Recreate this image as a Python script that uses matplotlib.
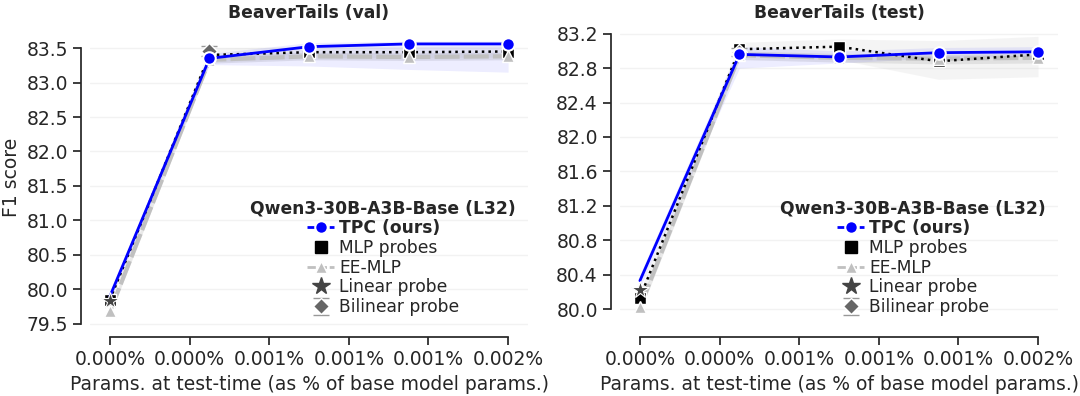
import numpy as np
import matplotlib
matplotlib.use("Agg")
import matplotlib.pyplot as plt
import seaborn as sns
from matplotlib.lines import Line2D
from matplotlib.ticker import MultipleLocator, FuncFormatter

sns.set_style("ticks")
plt.rcParams['font.family'] = 'sans-serif'
plt.rcParams['font.sans-serif'] = ['DejaVu Sans']
plt.rcParams['font.size'] = 12

# x: params at test time, % of base model params
params_pct = [0.0, 0.000425, 0.00085, 0.001275, 0.0017]

# BeaverTails (val)
tpc_val = [79.90, 83.35, 83.52, 83.56, 83.56]
tpc_val_lo = [79.84, 83.26, 83.24, 83.19, 83.15]
tpc_val_hi = [79.96, 83.42, 83.58, 83.60, 83.60]
ee_val = [79.68, 83.33, 83.38, 83.37, 83.38]
ee_val_lo = [79.62, 83.28, 83.33, 83.32, 83.33]
ee_val_hi = [79.74, 83.40, 83.44, 83.43, 83.44]
mlp_val = [79.85, 83.40, 83.44, 83.44, 83.45]
mlp_val_lo = [79.80, 83.30, 83.36, 83.36, 83.37]
mlp_val_hi = [79.90, 83.50, 83.52, 83.52, 83.53]
linear_val = 79.83
bilinear_val = 83.46
bilinear_val_err = 0.07

# BeaverTails (test)
tpc_test = [80.33, 82.96, 82.93, 82.98, 82.99]
tpc_test_lo = [80.25, 82.80, 82.86, 82.92, 82.94]
tpc_test_hi = [80.40, 83.05, 83.00, 83.04, 83.05]
ee_test = [80.02, 82.95, 82.92, 82.91, 82.92]
ee_test_lo = [79.96, 82.90, 82.87, 82.85, 82.86]
ee_test_hi = [80.08, 83.00, 82.97, 82.96, 82.97]
mlp_test = [80.13, 83.02, 83.05, 82.88, 82.96]
mlp_test_lo = [80.05, 82.94, 82.90, 82.67, 82.70]
mlp_test_hi = [80.20, 83.10, 83.14, 83.12, 83.17]
linear_test = 80.22
bilinear_test = 82.99
bilinear_test_err = 0.05

titles = ["BeaverTails (val)", "BeaverTails (test)"]
legend_title = "Qwen3-30B-A3B-Base (L32)"

TPC_C = "#0000ff"
EE_C = "#c0c0c0"
TXT = "#262626"
LAB = 13.5
SMALL = 12.3

panels = [
    dict(tpc=tpc_val, tlo=tpc_val_lo, thi=tpc_val_hi, ee=ee_val, elo=ee_val_lo, ehi=ee_val_hi,
         mlp=mlp_val, mlo=mlp_val_lo, mhi=mlp_val_hi, lin=linear_val, bil=bilinear_val,
         berr=bilinear_val_err, ylim=(79.44, 83.82), ystep=0.5),
    dict(tpc=tpc_test, tlo=tpc_test_lo, thi=tpc_test_hi, ee=ee_test, elo=ee_test_lo, ehi=ee_test_hi,
         mlp=mlp_test, mlo=mlp_test_lo, mhi=mlp_test_hi, lin=linear_test, bil=bilinear_test,
         berr=bilinear_test_err, ylim=(79.78, 83.29), ystep=0.4),
]

fig = plt.figure(figsize=(10.8, 3.96), dpi=100)
ax_lefts = [90 / 1080, 620 / 1080]
x = np.array(params_pct)

for i, p in enumerate(panels):
    ax = fig.add_axes([ax_lefts[i], 68 / 396, 438 / 1080, 302 / 396])
    ax.yaxis.grid(True, color="#f2f2f2", lw=1)
    ax.set_axisbelow(True)

    # bands
    ax.fill_between(x, p['mlo'], p['mhi'], color="#cccccc", alpha=0.2, lw=0, zorder=1)
    ax.fill_between(x, p['elo'], p['ehi'], color="#aaaaaa", alpha=0.25, lw=0, zorder=1)
    ax.fill_between(x, p['tlo'], p['thi'], color=TPC_C, alpha=0.07, lw=0, zorder=1)

    ax.plot(x, p['ee'], color=EE_C, lw=3, ls=(0, (6, 1)), zorder=2)
    ax.plot(x, p['mlp'], color="black", lw=1.8, ls=":", zorder=3)
    ax.plot(x, p['mlp'], ls="none", marker="s", ms=8, color="black", mec="white", mew=1, zorder=4)
    ax.plot(x, p['ee'], ls="none", marker="^", ms=8, color=EE_C, mec="white", mew=1, zorder=5)
    bil = ax.errorbar([x[1]], [p['bil']], yerr=[p['berr']], fmt="D", ms=8, color="#666666",
                      mec="white", mew=1, ecolor="#999999", elinewidth=1, capsize=6,
                      capthick=1.5, zorder=6)
    ax.plot(x, p['tpc'], color=TPC_C, lw=2, marker="o", ms=9, mec="white", mew=1.5,
            markevery=[1, 2, 3, 4], zorder=7)
    ax.plot([x[0]], [p['lin']], ls="none", marker="*", ms=13, color="#444444", mec="white",
            mew=0.8, zorder=8)

    ax.set_xlim(-0.000085, 0.001785)
    ax.set_xticks(np.linspace(0, 0.0017, 6))
    ax.xaxis.set_major_formatter(FuncFormatter(lambda v, pos: f"{v:.3f}%"))
    ax.set_ylim(*p['ylim'])
    ax.yaxis.set_major_locator(MultipleLocator(p['ystep']))
    ax.yaxis.set_major_formatter(FuncFormatter(lambda v, pos: f"{v:.1f}"))
    ax.tick_params(labelsize=LAB, colors=TXT, length=6, width=1.25)
    for s in ['left', 'bottom']:
        ax.spines[s].set_linewidth(1.25)
        ax.spines[s].set_color(TXT)
    sns.despine(ax=ax, offset=6.5, trim=True)

    ax.set_title(titles[i], fontsize=SMALL, fontweight="bold", color=TXT)
    ax.set_xlabel("Params. at test-time (as % of base model params.)", fontsize=LAB, color=TXT)
    if i == 0:
        ax.set_ylabel("F1 score", fontsize=LAB, color=TXT)

    handles = [
        Line2D([], [], color=TPC_C, lw=2, ls=(0, (3, 1)), marker="o", ms=9, mec="white", mew=1.5),
        Line2D([], [], ls="none", marker="s", ms=8, color="black"),
        Line2D([], [], color=EE_C, lw=2, ls=(0, (3, 1)), marker="^", ms=8, mec="white", mew=1),
        Line2D([], [], ls="none", marker="*", ms=13, color="#444444"),
        bil,
    ]
    labels = ["TPC (ours)", "MLP probes", "EE-MLP", "Linear probe", "Bilinear probe"]
    leg = ax.legend(handles, labels, loc="lower right", frameon=False, fontsize=SMALL,
                    title=legend_title, title_fontproperties={'weight': 'bold', 'size': SMALL},
                    handlelength=1.6, handletextpad=0.3, labelspacing=0.1, borderaxespad=0.3)
    leg.get_texts()[0].set_fontweight("bold")
    for t in leg.get_texts():
        t.set_color(TXT)
    leg.get_title().set_color(TXT)

fig.savefig("out.png", dpi=100)
